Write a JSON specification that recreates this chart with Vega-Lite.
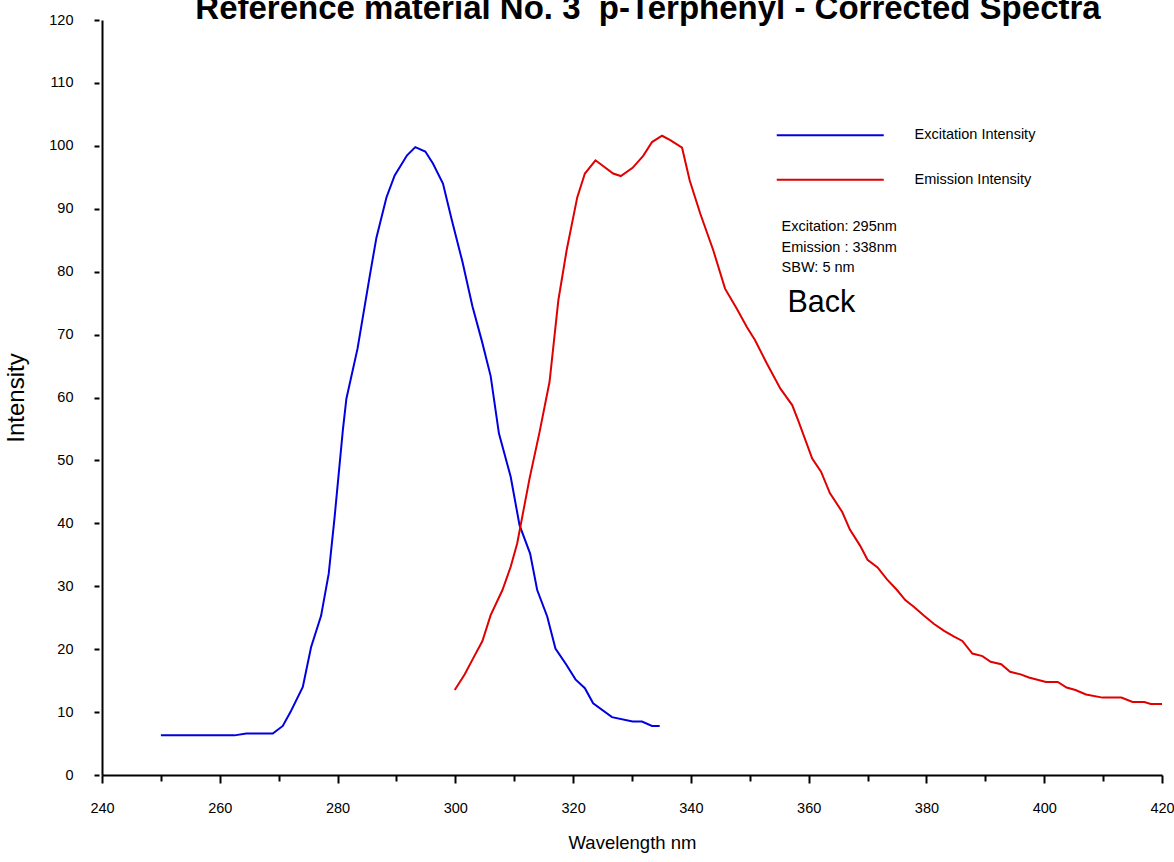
{
  "$schema": "https://vega.github.io/schema/vega-lite/v6.json",
  "width": 1060,
  "height": 755,
  "autosize": {"type": "none"},
  "padding": {"left": 102, "top": 20, "right": 12, "bottom": 87},
  "background": "white",
  "config": {
    "font": "Liberation Sans",
    "view": {"stroke": null},
    "axis": {"grid": false}
  },
  "title": {
    "text": "Reference material No. 3\u00a0 p-Terphenyl - Corrected Spectra",
    "fontSize": 33,
    "fontWeight": "bold",
    "font": "Liberation Sans",
    "color": "black",
    "anchor": "middle",
    "frame": "group",
    "baseline": "alphabetic",
    "offset": 0,
    "dx": 16,
    "dy": 40
  },
  "datasets": {
    "spectra": [
      {"series": "Excitation Intensity", "wavelength": 250.0, "intensity": 6.3},
      {"series": "Excitation Intensity", "wavelength": 262.5, "intensity": 6.3},
      {"series": "Excitation Intensity", "wavelength": 264.5, "intensity": 6.6},
      {"series": "Excitation Intensity", "wavelength": 269.0, "intensity": 6.6},
      {"series": "Excitation Intensity", "wavelength": 270.7, "intensity": 7.8},
      {"series": "Excitation Intensity", "wavelength": 272.0, "intensity": 10.0},
      {"series": "Excitation Intensity", "wavelength": 274.1, "intensity": 14.0},
      {"series": "Excitation Intensity", "wavelength": 275.5, "intensity": 20.3},
      {"series": "Excitation Intensity", "wavelength": 277.2, "intensity": 25.3},
      {"series": "Excitation Intensity", "wavelength": 278.5, "intensity": 32.0},
      {"series": "Excitation Intensity", "wavelength": 279.5, "intensity": 41.0},
      {"series": "Excitation Intensity", "wavelength": 280.9, "intensity": 54.8},
      {"series": "Excitation Intensity", "wavelength": 281.5, "intensity": 59.8},
      {"series": "Excitation Intensity", "wavelength": 283.4, "intensity": 67.8},
      {"series": "Excitation Intensity", "wavelength": 285.5, "intensity": 79.5},
      {"series": "Excitation Intensity", "wavelength": 286.6, "intensity": 85.4},
      {"series": "Excitation Intensity", "wavelength": 288.3, "intensity": 91.8},
      {"series": "Excitation Intensity", "wavelength": 289.7, "intensity": 95.3},
      {"series": "Excitation Intensity", "wavelength": 291.8, "intensity": 98.5},
      {"series": "Excitation Intensity", "wavelength": 293.2, "intensity": 99.8},
      {"series": "Excitation Intensity", "wavelength": 294.9, "intensity": 99.1},
      {"series": "Excitation Intensity", "wavelength": 296.2, "intensity": 97.2},
      {"series": "Excitation Intensity", "wavelength": 297.9, "intensity": 94.0},
      {"series": "Excitation Intensity", "wavelength": 299.4, "intensity": 88.2},
      {"series": "Excitation Intensity", "wavelength": 301.2, "intensity": 81.6},
      {"series": "Excitation Intensity", "wavelength": 302.9, "intensity": 74.5},
      {"series": "Excitation Intensity", "wavelength": 304.5, "intensity": 69.0},
      {"series": "Excitation Intensity", "wavelength": 306.0, "intensity": 63.4},
      {"series": "Excitation Intensity", "wavelength": 307.4, "intensity": 54.3},
      {"series": "Excitation Intensity", "wavelength": 309.4, "intensity": 47.4},
      {"series": "Excitation Intensity", "wavelength": 310.9, "intensity": 39.7},
      {"series": "Excitation Intensity", "wavelength": 312.7, "intensity": 35.2},
      {"series": "Excitation Intensity", "wavelength": 313.9, "intensity": 29.4},
      {"series": "Excitation Intensity", "wavelength": 315.6, "intensity": 25.2},
      {"series": "Excitation Intensity", "wavelength": 317.0, "intensity": 20.1},
      {"series": "Excitation Intensity", "wavelength": 318.8, "intensity": 17.6},
      {"series": "Excitation Intensity", "wavelength": 320.4, "intensity": 15.2},
      {"series": "Excitation Intensity", "wavelength": 322.0, "intensity": 13.8},
      {"series": "Excitation Intensity", "wavelength": 323.4, "intensity": 11.4},
      {"series": "Excitation Intensity", "wavelength": 326.6, "intensity": 9.2},
      {"series": "Excitation Intensity", "wavelength": 330.1, "intensity": 8.5},
      {"series": "Excitation Intensity", "wavelength": 331.7, "intensity": 8.5},
      {"series": "Excitation Intensity", "wavelength": 333.4, "intensity": 7.8},
      {"series": "Excitation Intensity", "wavelength": 334.7, "intensity": 7.8},
      {"series": "Emission Intensity", "wavelength": 299.9, "intensity": 13.5},
      {"series": "Emission Intensity", "wavelength": 301.6, "intensity": 16.0},
      {"series": "Emission Intensity", "wavelength": 303.0, "intensity": 18.5},
      {"series": "Emission Intensity", "wavelength": 304.6, "intensity": 21.3},
      {"series": "Emission Intensity", "wavelength": 306.0, "intensity": 25.4},
      {"series": "Emission Intensity", "wavelength": 308.0, "intensity": 29.4},
      {"series": "Emission Intensity", "wavelength": 309.4, "intensity": 33.1},
      {"series": "Emission Intensity", "wavelength": 310.5, "intensity": 36.8},
      {"series": "Emission Intensity", "wavelength": 312.6, "intensity": 47.1},
      {"series": "Emission Intensity", "wavelength": 314.3, "intensity": 54.5},
      {"series": "Emission Intensity", "wavelength": 316.0, "intensity": 62.5},
      {"series": "Emission Intensity", "wavelength": 317.5, "intensity": 75.5},
      {"series": "Emission Intensity", "wavelength": 318.9, "intensity": 83.4},
      {"series": "Emission Intensity", "wavelength": 320.7, "intensity": 91.8},
      {"series": "Emission Intensity", "wavelength": 322.0, "intensity": 95.6},
      {"series": "Emission Intensity", "wavelength": 323.8, "intensity": 97.7},
      {"series": "Emission Intensity", "wavelength": 326.8, "intensity": 95.6},
      {"series": "Emission Intensity", "wavelength": 328.1, "intensity": 95.2},
      {"series": "Emission Intensity", "wavelength": 330.1, "intensity": 96.5},
      {"series": "Emission Intensity", "wavelength": 331.9, "intensity": 98.4},
      {"series": "Emission Intensity", "wavelength": 333.4, "intensity": 100.6},
      {"series": "Emission Intensity", "wavelength": 335.1, "intensity": 101.6},
      {"series": "Emission Intensity", "wavelength": 336.5, "intensity": 100.9},
      {"series": "Emission Intensity", "wavelength": 338.5, "intensity": 99.7},
      {"series": "Emission Intensity", "wavelength": 339.8, "intensity": 94.5},
      {"series": "Emission Intensity", "wavelength": 341.6, "intensity": 89.2},
      {"series": "Emission Intensity", "wavelength": 343.8, "intensity": 83.4},
      {"series": "Emission Intensity", "wavelength": 345.8, "intensity": 77.3},
      {"series": "Emission Intensity", "wavelength": 347.8, "intensity": 74.1},
      {"series": "Emission Intensity", "wavelength": 349.5, "intensity": 71.2},
      {"series": "Emission Intensity", "wavelength": 350.9, "intensity": 69.1},
      {"series": "Emission Intensity", "wavelength": 352.9, "intensity": 65.4},
      {"series": "Emission Intensity", "wavelength": 355.2, "intensity": 61.4},
      {"series": "Emission Intensity", "wavelength": 357.2, "intensity": 58.8},
      {"series": "Emission Intensity", "wavelength": 358.2, "intensity": 56.4},
      {"series": "Emission Intensity", "wavelength": 360.6, "intensity": 50.3},
      {"series": "Emission Intensity", "wavelength": 362.1, "intensity": 48.2},
      {"series": "Emission Intensity", "wavelength": 363.6, "intensity": 44.8},
      {"series": "Emission Intensity", "wavelength": 365.7, "intensity": 41.8},
      {"series": "Emission Intensity", "wavelength": 367.0, "intensity": 39.0},
      {"series": "Emission Intensity", "wavelength": 368.7, "intensity": 36.5},
      {"series": "Emission Intensity", "wavelength": 370.0, "intensity": 34.2},
      {"series": "Emission Intensity", "wavelength": 371.7, "intensity": 33.0},
      {"series": "Emission Intensity", "wavelength": 373.3, "intensity": 31.1},
      {"series": "Emission Intensity", "wavelength": 375.0, "intensity": 29.4},
      {"series": "Emission Intensity", "wavelength": 376.4, "intensity": 27.8},
      {"series": "Emission Intensity", "wavelength": 377.9, "intensity": 26.7},
      {"series": "Emission Intensity", "wavelength": 379.6, "intensity": 25.3},
      {"series": "Emission Intensity", "wavelength": 381.3, "intensity": 24.0},
      {"series": "Emission Intensity", "wavelength": 383.0, "intensity": 22.9},
      {"series": "Emission Intensity", "wavelength": 384.7, "intensity": 22.0},
      {"series": "Emission Intensity", "wavelength": 386.1, "intensity": 21.3},
      {"series": "Emission Intensity", "wavelength": 387.8, "intensity": 19.3},
      {"series": "Emission Intensity", "wavelength": 389.5, "intensity": 18.9},
      {"series": "Emission Intensity", "wavelength": 390.9, "intensity": 18.0},
      {"series": "Emission Intensity", "wavelength": 392.7, "intensity": 17.6},
      {"series": "Emission Intensity", "wavelength": 394.2, "intensity": 16.4},
      {"series": "Emission Intensity", "wavelength": 396.0, "intensity": 16.0},
      {"series": "Emission Intensity", "wavelength": 397.4, "intensity": 15.5},
      {"series": "Emission Intensity", "wavelength": 400.3, "intensity": 14.8},
      {"series": "Emission Intensity", "wavelength": 402.3, "intensity": 14.8},
      {"series": "Emission Intensity", "wavelength": 403.8, "intensity": 13.9},
      {"series": "Emission Intensity", "wavelength": 405.3, "intensity": 13.5},
      {"series": "Emission Intensity", "wavelength": 407.1, "intensity": 12.8},
      {"series": "Emission Intensity", "wavelength": 409.9, "intensity": 12.3},
      {"series": "Emission Intensity", "wavelength": 413.1, "intensity": 12.3},
      {"series": "Emission Intensity", "wavelength": 415.0, "intensity": 11.6},
      {"series": "Emission Intensity", "wavelength": 417.0, "intensity": 11.6},
      {"series": "Emission Intensity", "wavelength": 418.1, "intensity": 11.3},
      {"series": "Emission Intensity", "wavelength": 420.0, "intensity": 11.3}
    ]
  },
  "layer": [
    {
      "data": {"name": "spectra"},
      "mark": {"type": "line", "strokeWidth": 2},
      "encoding": {
        "x": {
          "field": "wavelength",
          "type": "quantitative",
          "scale": {"domain": [240, 420], "nice": false, "zero": false},
          "axis": {
            "values": [240,245,250,255,260,265,270,275,280,285,290,295,300,305,310,315,320,325,330,335,340,345,350,355,360,365,370,375,380,385,390,395,400,405,410,415,420],
            "labelExpr": "datum.value % 20 === 0 ? datum.label : ''",
            "format": "d",
            "labelFlush": false,
            "labelOverlap": false,
            "labelFontSize": 14.5,
            "labelColor": "black",
            "labelPadding": 18.5,
            "tickSize": 8,
            "tickWidth": 2,
            "tickColor": "black",
            "tickDash": {"condition": {"test": "datum.value % 20 === 0", "value": [8, 0]}, "value": [6, 10]},
            "domainColor": "black",
            "domainWidth": 2,
            "title": "Wavelength nm",
            "titleFontSize": 18.5,
            "titleFontWeight": "normal",
            "titleColor": "black",
            "titlePadding": 18
          }
        },
        "y": {
          "field": "intensity",
          "type": "quantitative",
          "scale": {"domain": [0, 120], "nice": false},
          "axis": {
            "values": [0,5,10,15,20,25,30,35,40,45,50,55,60,65,70,75,80,85,90,95,100,105,110,115,120],
            "labelExpr": "datum.value % 10 === 0 ? datum.label : ''",
            "format": "d",
            "labelFlush": false,
            "labelOverlap": false,
            "labelFontSize": 14.5,
            "labelColor": "black",
            "labelPadding": 21,
            "tickSize": 8,
            "tickWidth": 2,
            "tickColor": "black",
            "tickDash": {"condition": {"test": "datum.value % 10 === 0", "value": [0, 3, 5, 10]}, "value": [0, 5.5, 2.5, 10]},
            "domainColor": "black",
            "domainWidth": 2,
            "title": "Intensity",
            "titleFontSize": 24,
            "titleFontWeight": "normal",
            "titleColor": "black",
            "titlePadding": 20
          }
        },
        "color": {
          "field": "series",
          "type": "nominal",
          "scale": {"domain": ["Excitation Intensity", "Emission Intensity"], "range": ["#0000e0", "#e00000"]},
          "legend": {
            "orient": "none",
            "legendX": 721,
            "legendY": 108,
            "title": null,
            "direction": "vertical",
            "symbolType": "M-10,0H10",
            "symbolSize": 114.5,
            "symbolStrokeWidth": 2,
            "labelFontSize": 14.5,
            "labelColor": "black",
            "labelOffset": 77,
            "rowPadding": 29.5,
            "padding": 0,
            "symbolOffset": 0
          }
        }
      }
    },
    {
      "data": {"values": [{}]},
      "mark": {"type": "text", "align": "left", "baseline": "alphabetic", "fontSize": 14.5, "lineHeight": 20.8, "color": "black"},
      "encoding": {
        "x": {"datum": 355.4},
        "y": {"datum": 86.5},
        "text": {"value": ["Excitation: 295nm", "Emission : 338nm", "SBW: 5 nm"]}
      }
    },
    {
      "data": {"values": [{}]},
      "mark": {"type": "text", "align": "left", "baseline": "alphabetic", "fontSize": 30.5, "color": "black"},
      "encoding": {
        "x": {"datum": 356.4},
        "y": {"datum": 73.6},
        "text": {"value": "Back"}
      }
    }
  ]
}
